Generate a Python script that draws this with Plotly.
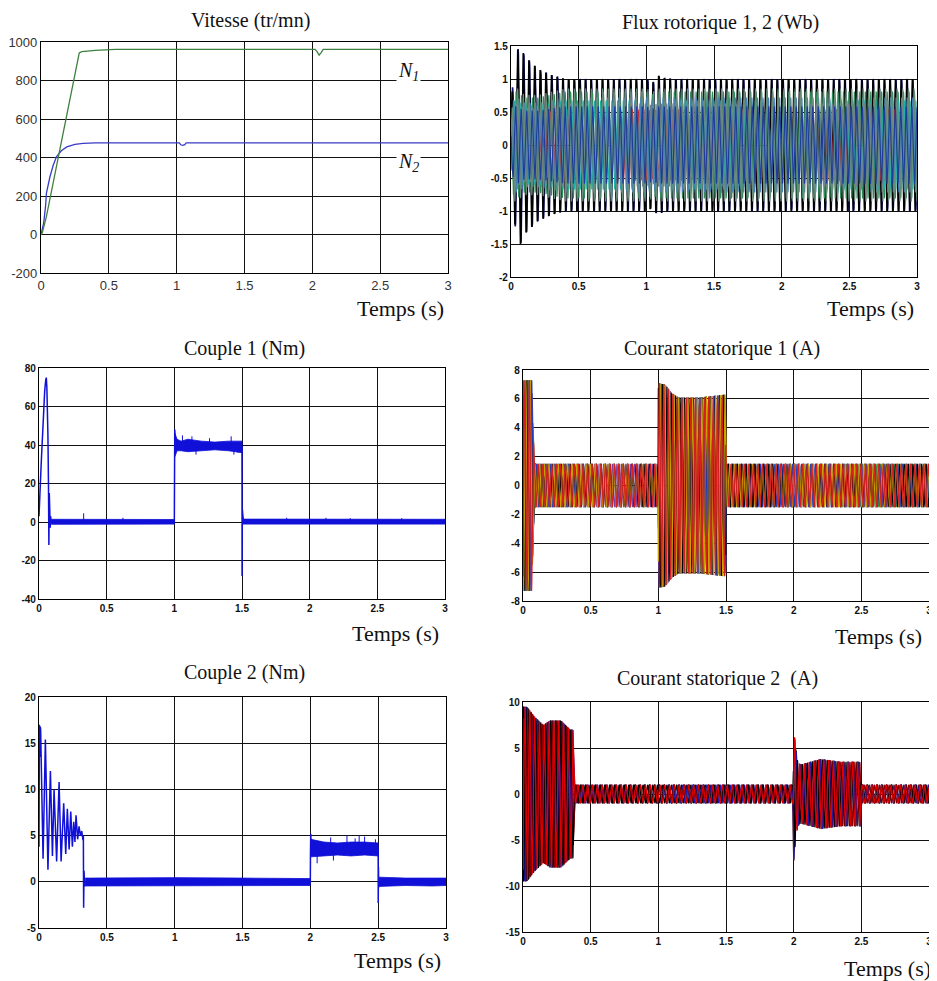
import numpy as np
import plotly.graph_objects as go
from plotly.subplots import make_subplots

# page body has an 8px default margin: figure size and pixel mapping account for it
OFF = 8
W, H = 937 - OFF, 981 - OFF

# ---------------- data ----------------
# Vitesse (tr/mn)
n1_t = [0, 0.01, 0.04, 0.12, 0.2, 0.282, 0.3, 0.33, 0.4, 0.55, 2.02, 2.035, 2.05, 2.065, 2.08, 3.0]
n1_v = [0, 10, 94, 375, 655, 943, 950, 953, 957, 962, 962, 950, 932, 945, 962, 962]
n2_t = [0, 0.02, 0.034, 0.04, 0.066, 0.09, 0.115, 0.15, 0.19, 0.25, 0.31, 0.4, 1.02, 1.03, 1.045, 1.06, 1.07, 3.0]
n2_v = [0, 60, 150, 215, 300, 360, 405, 435, 455, 468, 473, 476, 476, 466, 463, 467, 476, 476]

# Flux rotorique: envelope breakpoints, carrier frequencies, phase offsets
flux_env_t = [0, 0.02, 0.05, 0.07, 0.1, 0.15, 0.2, 0.3, 0.4, 1.0, 1.05, 1.08, 1.12, 1.2, 3.0]
flux_env_main = [0.6, 1.1, 1.45, 1.5, 1.35, 1.25, 1.15, 1.06, 1.0, 1.0, 0.95, 1.06, 1.02, 1.0, 1.0]
flux_env_aux = [0.4, 0.9, 0.9, 0.85, 0.8, 0.8, 0.8, 0.85, 0.9, 0.9, 0.85, 0.9, 0.9, 0.9, 0.9]
flux_aux_colors = ["#d02020", "#2e8b57", "#20b2aa", "#708090", "#4682b4", "#6a8a7a", "#1e3c9a"]
flux_aux_freq = [23.2, 24.8, 23.6, 25.3, 24.4, 23.9, 24.6]
flux_aux_phase = [3.0, 2.1, 4.2, 1.0, 5.2, 0.5, 2.6]
flux_aux_scale = [0.6, 0.9, 0.75, 0.7, 0.8, 0.95, 0.65]
flux_main_colors = ["#10107a", "#000000"]
flux_main_freq = [24.0, 24.0]
flux_main_phase = [0.0, 0.4]

# Courant statorique 1
i1_env_t = [0, 0.065, 0.075, 0.085, 0.998, 1.0, 1.05, 1.1, 1.15, 1.3, 1.498, 1.5, 1.502, 3.0]
i1_env_a = [7.3, 7.3, 4.0, 1.5, 1.5, 7.1, 7.0, 6.4, 6.1, 6.1, 6.3, 1.5, 1.5, 1.5]
i1_colors = ["#1f9e3a", "#7b3fa0", "#2040c0", "#000000", "#c8a000", "#d42020"]
i1_freq = [30.0, 30.4, 29.6, 30.8, 29.2, 30.2]
i1_phase = [0.0, 1.05, 2.09, 3.14, 4.19, 5.24]

# Courant statorique 2
i2_env_t = [0, 0.03, 0.08, 0.15, 0.2, 0.28, 0.35, 0.37, 0.38, 1.995, 2.0, 2.015, 2.03, 2.05, 2.2, 2.35, 2.495, 2.5, 3.0]
i2_env_a = [9.5, 9.5, 8.5, 7.5, 8.0, 8.0, 7.0, 7.0, 1.0, 1.0, 7.3, 5.0, 3.5, 3.2, 3.8, 3.5, 3.5, 1.0, 1.0]
i2_colors = ["#1a1ab0", "#000000", "#8b0000", "#1a1ab0", "#000000", "#e00000"]
i2_freq = [28.0, 28.3, 27.7, 28.6, 27.4, 28.1]
i2_phase = [0.0, 1.05, 2.09, 3.14, 4.19, 5.24]

# Couple 1 (Nm): transient line, ripple bands, spikes
c1_t = [0, 0.004, 0.01, 0.018, 0.026, 0.034, 0.042, 0.05, 0.054, 0.058, 0.062, 0.066, 0.07, 0.073, 0.076,
        0.078, 0.08, 0.083, 0.086, 0.09, 1.0, 1.001, 1.003, 1.01, 1.5, 1.5005, 1.502, 1.504, 1.507, 1.512, 3.0]
c1_v = [3, 8, 20, 33, 46, 58, 68, 74, 75, 70, 60, 45, 20, -12, 15, 6, 2, -3, 3, 0, 0, 30, 48, 40, 39, -28, 7,
        -4, 3, 0, 0]
c1_band_t = [[0.09, 0.3, 0.6, 1.0], [1.005, 1.02, 1.05, 1.1, 1.2, 1.3, 1.4, 1.5], [1.505, 2.0, 2.5, 3.0]]
c1_band_hi = [[1.4, 1.3, 1.4, 1.3], [46, 43, 42, 43, 42, 41.5, 42, 42], [1.5, 1.4, 1.6, 1.4]]
c1_band_lo = [[-1.2, -1.1, -1.2, -1.1], [34, 37, 37, 36.5, 37, 37.5, 37, 36], [-1.1, -1.2, -1.1, -1.1]]
c1_spk_t = [0.33, 0.62, 1.06, 1.13, 1.16, 1.26, 1.42, 1.44, 1.47, 1.83, 2.12, 2.3, 2.68]
c1_spk_b = [0, 0, 40, 40, 39, 40, 40, 39, 39, 0, 0, 0, 0]
c1_spk_v = [4.5, 2.2, 45, 44.5, 35, 43.5, 44.5, 35, 36, 2.2, 2.2, 2.0, 2.0]

# Couple 2 (Nm)
c2_t = [0, 0.003, 0.006, 0.009, 0.012, 0.03, 0.047, 0.066, 0.084, 0.099, 0.111, 0.13, 0.148, 0.163, 0.182,
        0.197, 0.209, 0.222, 0.234, 0.246, 0.256, 0.265, 0.273, 0.285, 0.295, 0.305, 0.315, 0.324, 0.327,
        0.329, 0.332, 0.336, 0.34, 2.0, 2.001, 2.003, 2.008, 2.5, 2.5005, 2.502, 2.504, 2.508, 3.0]
c2_v = [3.8, 17, 13.5, 16.8, 16.5, 2.5, 15.4, 1.3, 12, 2.8, 10, 2.2, 10.8, 2.2, 8.5, 3, 7.9, 3.5, 7.6, 3.8,
        6.5, 4.3, 7.2, 4.6, 6, 5, 5.5, 4.5, 5, -2.8, 1.2, -0.5, 0, 0, 3, 5.2, 3.5, 3.5, -2.3, 1.6, -0.6, 0.3, 0]
c2_band_t = [[0.34, 1.0, 1.5, 2.0], [2.004, 2.1, 2.2, 2.3, 2.4, 2.5], [2.505, 2.7, 2.9, 3.0]]
c2_band_hi = [[0.4, 0.45, 0.4, 0.35], [4.6, 4.3, 4.2, 4.3, 4.3, 4.2], [0.5, 0.4, 0.4, 0.4]]
c2_band_lo = [[-0.45, -0.45, -0.4, -0.4], [2.7, 2.8, 2.9, 2.8, 2.9, 2.8], [-0.5, -0.4, -0.45, -0.4]]
c2_spk_t = [2.05, 2.15, 2.17, 2.27, 2.33, 2.36, 2.4, 2.48]
c2_spk_b = [3.5, 3.5, 3.5, 3.5, 3.5, 3.5, 3.5, 3.5]
c2_spk_v = [2.0, 4.8, 2.3, 5.0, 4.7, 5.0, 4.9, 4.6]

# axes / ticks
x_ticks = [0, 0.5, 1, 1.5, 2, 2.5, 3]
x_text = ["0", "0.5", "1", "1.5", "2", "2.5", "3"]
y1_ticks = [-200, 0, 200, 400, 600, 800, 1000]
y2_ticks = [-2, -1.5, -1, -0.5, 0, 0.5, 1, 1.5]
y3_ticks = [-40, -20, 0, 20, 40, 60, 80]
y4_ticks = [-8, -6, -4, -2, 0, 2, 4, 6, 8]
y5_ticks = [-5, 0, 5, 10, 15, 20]
y6_ticks = [-15, -10, -5, 0, 5, 10]
titles = ["Vitesse (tr/mn)", "Flux rotorique 1, 2 (Wb)", "Couple 1 (Nm)",
          "Courant statorique 1 (A)", "Couple 2 (Nm)", "Courant statorique 2  (A)"]

# ---------------- layout geometry (target pixels in the 937x981 window) ----------------
panels = [(41, 448, 42, 273), (511, 917, 46, 277), (39, 445, 368, 599),
          (523, 929, 370, 601), (39, 446, 697, 928), (523, 929, 702, 932)]
title_pos = [(250, 21), (720, 23), (245, 348), (722, 348), (245, 672), (717, 678)]
temps_pos = [(400, 308), (870, 308), (395, 633), (878, 636), (397, 960), (887, 968)]

fig = make_subplots(rows=3, cols=2)


def px(x):
    return (x - OFF) / W


def py(y):
    return 1 - (y - OFF) / H


t = np.arange(0, 3.0 + 1e-9, 0.0005)


def add_line(x, y, color, r, c, width=1.0):
    fig.add_trace(go.Scatter(x=x, y=y, mode="lines", line=dict(color=color, width=width),
                             showlegend=False, hoverinfo="skip"), row=r, col=c)


# Vitesse
add_line(n2_t, n2_v, "#3a3ac8", 1, 1, 1.3)
add_line(n1_t, n1_v, "#3f7f3f", 1, 1, 1.3)

# Flux: main (black / navy) first, mixed colours on top
for col, fq, ph in zip(flux_main_colors, flux_main_freq, flux_main_phase):
    env = np.interp(t, flux_env_t, flux_env_main)
    add_line(t, env * np.sin(2 * np.pi * fq * t + ph), col, 1, 2, 1.6)
for col, fq, ph, sc in zip(flux_aux_colors, flux_aux_freq, flux_aux_phase, flux_aux_scale):
    env = np.interp(t, flux_env_t, flux_env_aux) * sc
    add_line(t, env * np.sin(2 * np.pi * fq * t + ph), col, 1, 2, 1.1)

# Courant 1
for col, fq, ph in zip(i1_colors, i1_freq, i1_phase):
    env = np.interp(t, i1_env_t, i1_env_a)
    add_line(t, env * np.sin(2 * np.pi * fq * t + ph), col, 2, 2, 1.2)

# Courant 2
for col, fq, ph in zip(i2_colors, i2_freq, i2_phase):
    env = np.interp(t, i2_env_t, i2_env_a)
    add_line(t, env * np.sin(2 * np.pi * fq * t + ph), col, 3, 2, 1.2)

# Couples
BLUE = "#1010d8"


def add_torque(tt, vv, bands_t, bands_hi, bands_lo, spk_t, spk_b, spk_v, r, c):
    for bt, bh, bl in zip(bands_t, bands_hi, bands_lo):
        fig.add_trace(go.Scatter(x=list(bt) + list(bt)[::-1], y=list(bh) + list(bl)[::-1],
                                 mode="lines", fill="toself", fillcolor=BLUE,
                                 line=dict(color=BLUE, width=0.8), showlegend=False,
                                 hoverinfo="skip"), row=r, col=c)
    sx, sy = [], []
    for a, b, v in zip(spk_t, spk_b, spk_v):
        sx += [a, a, None]
        sy += [b, v, None]
    add_line(sx, sy, BLUE, r, c, 1.0)
    add_line(tt, vv, BLUE, r, c, 1.5)


add_torque(c1_t, c1_v, c1_band_t, c1_band_hi, c1_band_lo, c1_spk_t, c1_spk_b, c1_spk_v, 2, 1)
add_torque(c2_t, c2_v, c2_band_t, c2_band_hi, c2_band_lo, c2_spk_t, c2_spk_b, c2_spk_v, 3, 1)

# ---------------- axes ----------------
y_ticks_all = [y1_ticks, y2_ticks, y3_ticks, y4_ticks, y5_ticks, y6_ticks]
small_font = dict(family="Liberation Sans, Arial", size=10, color="#111", weight="bold")
big_font = dict(family="Liberation Sans, Arial", size=13, color="#333")

for i, ((l, r, tp, bt), yt) in enumerate(zip(panels, y_ticks_all)):
    k = "" if i == 0 else str(i + 1)
    f = big_font if i == 0 else small_font
    fig.layout["xaxis" + k].update(
        domain=[px(l), px(r)], range=[0, 3], tickvals=x_ticks, ticktext=x_text,
        showgrid=True, gridcolor="#111", gridwidth=1, zeroline=False,
        showline=True, mirror=True, linecolor="#000", linewidth=1.2,
        ticks="", tickfont=f, automargin=False)
    fig.layout["yaxis" + k].update(
        domain=[py(bt), py(tp)], range=[yt[0], yt[-1]], tickvals=yt,
        ticktext=[str(v) for v in yt],
        showgrid=True, gridcolor="#111", gridwidth=1, zeroline=False,
        showline=True, mirror=True, linecolor="#000", linewidth=1.2,
        ticks="", tickfont=f, automargin=False)

annotations = []
serif = "Liberation Serif, Times New Roman, serif"
for (x, y), txt in zip(title_pos, titles):
    annotations.append(dict(x=px(x), y=py(y), xref="paper", yref="paper", text=txt, showarrow=False,
                            xanchor="center", yanchor="middle",
                            font=dict(family=serif, size=20, color="#111")))
for (x, y) in temps_pos:
    annotations.append(dict(x=px(x), y=py(y), xref="paper", yref="paper", text="Temps (s)",
                            showarrow=False, xanchor="center", yanchor="middle",
                            font=dict(family=serif, size=22, color="#111")))
for (x, y), txt in zip([(408, 72), (408, 162)], ["<i>N<sub>1</sub></i>", "<i>N<sub>2</sub></i>"]):
    annotations.append(dict(x=px(x), y=py(y), xref="paper", yref="paper", text=txt, showarrow=False,
                            xanchor="center", yanchor="middle", bgcolor="white",
                            font=dict(family=serif, size=20, color="#111")))

fig.update_layout(width=W, height=H, margin=dict(l=0, r=0, t=0, b=0, autoexpand=False),
                  paper_bgcolor="white", plot_bgcolor="white", showlegend=False,
                  annotations=annotations)

fig.write_html("out.html")
